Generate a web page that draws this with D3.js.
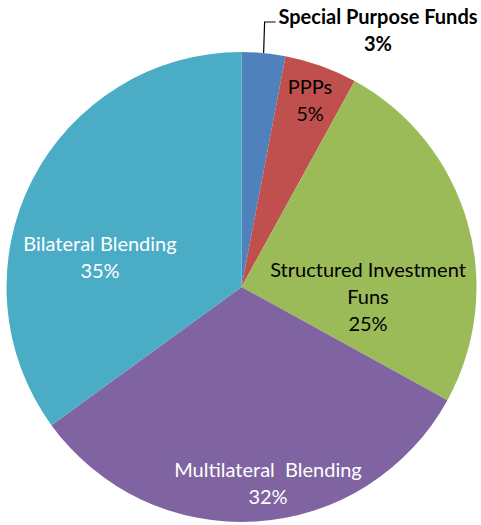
<!DOCTYPE html>
<html><head><meta charset="utf-8">
<script src="https://cdn.jsdelivr.net/npm/d3@7"></script>
<style>body{margin:0;background:#fff}svg{display:block}</style>
</head><body>
<svg id="c" width="481" height="525"></svg>
<script>
const categories = ["Special Purpose Funds", "PPPs", "Structured Investment Funs", "Multilateral  Blending", "Bilateral Blending"];
const values = [3, 5, 25, 32, 35];
const colors = ["#4F81BD", "#C0504D", "#9BBB59", "#8064A2", "#4BACC6"];
const labelLines = [["Special Purpose Funds", "3%"], ["PPPs", "5%"], ["Structured Investment", "Funs", "25%"], ["Multilateral  Blending", "32%"], ["Bilateral Blending", "35%"]];
const labelColors = ["#000", "#000", "#000", "#fff", "#fff"];

const svg = d3.select("#c");
const cx = 241.5, cy = 287, r = 235;
const g = svg.append("g").attr("transform", `translate(${cx},${cy})`);
const data = categories.map((c, i) => ({c, v: values[i], i}));
const pie = d3.pie().value(d => d.v).sort(null);
const arcs = pie(data);
const arc = d3.arc().innerRadius(0).outerRadius(r);
g.selectAll("path").data(arcs).join("path")
  .attr("d", arc).attr("fill", d => colors[d.data.i]);

const labelArc = d3.arc().innerRadius(r * 0.62).outerRadius(r * 0.62);
arcs.forEach((a, i) => {
  let x, y, weight = "normal";
  if (i === 0) {
    const ang = a.startAngle + (a.endAngle - a.startAngle) * 0.5;
    const px = r * Math.sin(ang), py = -r * Math.cos(ang);
    const lx = px + 1, ly = 22 - cy;
    g.append("path").attr("d", `M${px},${py}L${lx},${ly}L${lx + 11},${ly}`)
      .attr("fill", "none").attr("stroke", "#000").attr("stroke-width", 1.2);
    x = 378 - cx; y = 17 - cy; weight = "bold";
  } else {
    const c = labelArc.centroid(a);
    x = c[0]; y = c[1];
    if (i === 1) { x = 310 - cx; y = 87 - cy; }
    if (i === 2) { x = 368 - cx; y = 270 - cy; }
    if (i === 3) { x = 268 - cx; y = 470 - cy; }
    if (i === 4) { x = 100 - cx; y = 244 - cy; }
  }
  const lines = labelLines[i];
  const t = g.append("text").attr("text-anchor", "middle")
    .attr("font-family", "Lato, 'Open Sans', sans-serif")
    .attr("font-size", 20).attr("font-weight", weight)
    .attr("fill", labelColors[i]).style("white-space", "pre");
  lines.forEach((ln, k) => {
    t.append("tspan").attr("x", x).attr("y", y + k * 27).attr("dy", "0.35em").text(ln);
  });
});
</script>
</body></html>
